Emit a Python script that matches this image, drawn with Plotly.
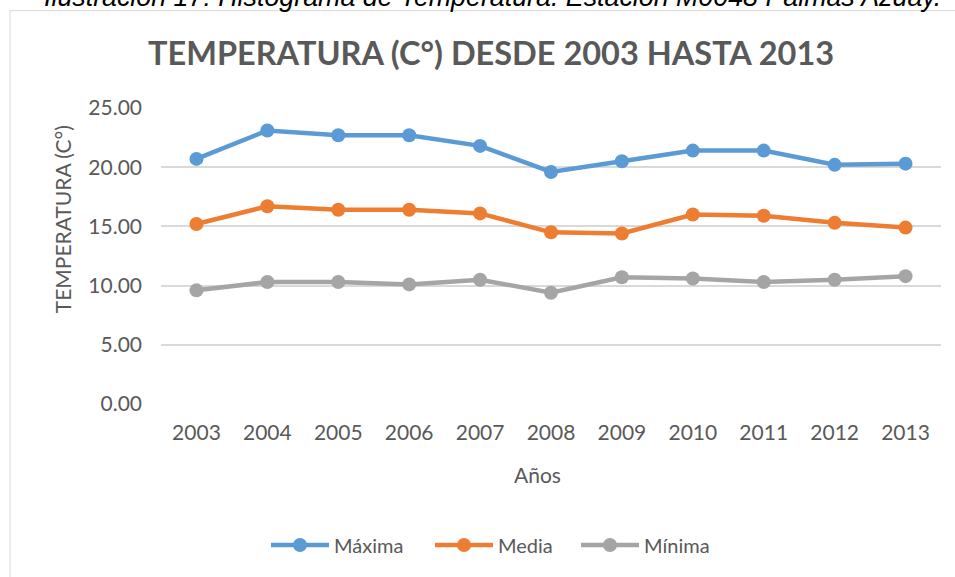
import plotly.graph_objects as go

years = ["2003", "2004", "2005", "2006", "2007", "2008", "2009", "2010", "2011", "2012", "2013"]
maxima = [20.7, 23.1, 22.7, 22.7, 21.8, 19.6, 20.5, 21.4, 21.4, 20.2, 20.3]
media = [15.2, 16.7, 16.4, 16.4, 16.1, 14.5, 14.4, 16.0, 15.9, 15.3, 14.9]
minima = [9.6, 10.3, 10.3, 10.1, 10.5, 9.4, 10.7, 10.6, 10.3, 10.5, 10.8]
y_ticks = [0, 5, 10, 15, 20, 25]
series_names = ["Máxima", "Media", "Mínima"]
series_colors = ["#5B9BD5", "#ED7D31", "#A5A5A5"]

W, H = 955, 577
ML, MR, MT, MB = 161, 14, 108, 171
PW, PH = W - ML - MR, H - MT - MB

def px(x):
    return (x - ML) / PW

def py(y):
    return (H - MB - y) / PH

TXT = "#595959"
FONT = "Lato"

legend_x = [266, 430, 576]
fig = go.Figure()
legends = {}
for i, (name, vals, col) in enumerate(zip(series_names, [maxima, media, minima], series_colors)):
    lg = "legend" if i == 0 else f"legend{i + 1}"
    fig.add_trace(go.Scatter(x=years, y=vals, name=name, mode="lines+markers",
                             line=dict(color=col, width=4.5),
                             marker=dict(color=col, size=14), legend=lg))
    legends[lg] = dict(orientation="h", x=px(legend_x[i]), xanchor="left", y=py(548),
                       yanchor="middle", font=dict(size=20, color=TXT, family=FONT),
                       itemwidth=58, bgcolor="rgba(0,0,0,0)")

fig.update_layout(
    width=W, height=H,
    margin=dict(l=ML, r=MR, t=MT, b=MB),
    paper_bgcolor="white", plot_bgcolor="white",
    font=dict(family=FONT, color=TXT, size=20),
    showlegend=True,
    **legends,
    xaxis=dict(type="category", range=[-0.5, 10.5], showgrid=False, showline=False,
               ticks="", ticklabelstandoff=14, tickfont=dict(size=21, color=TXT),
               zeroline=False),
    yaxis=dict(range=[0, 25], tickvals=y_ticks, tickformat=".2f", showgrid=True,
               gridcolor="#D9D9D9", gridwidth=1.5, zeroline=False, showline=False,
               ticks="", ticklabelstandoff=18, tickfont=dict(size=21, color=TXT)),
    annotations=[
        dict(text="<b>TEMPERATURA (C°) DESDE 2003 HASTA 2013</b>", xref="paper", yref="paper",
             x=px(490.5), y=py(52), xanchor="center", yanchor="middle", showarrow=False,
             font=dict(size=32.5, color=TXT, family=FONT)),
        dict(text="Años", xref="paper", yref="paper", x=px(537), y=py(477),
             xanchor="center", yanchor="middle", showarrow=False,
             font=dict(size=21, color=TXT, family=FONT)),
        dict(text="TEMPERATURA (C°)", xref="paper", yref="paper", x=px(62), y=py(220),
             xanchor="center", yanchor="middle", showarrow=False, textangle=-90,
             font=dict(size=21, color=TXT, family=FONT)),
        dict(text="<i>Ilustración 17: Histograma de Temperatura. Estación M0048 Palmas Azuay.</i>",
             xref="paper", yref="paper", x=px(42), y=py(13), xanchor="left", yanchor="bottom",
             showarrow=False, font=dict(size=26.8, color="black", family="Liberation Sans")),
    ],
    shapes=[
        dict(type="rect", xref="paper", yref="paper", x0=px(10), y0=py(H + 20),
             x1=px(W + 20), y1=py(10), line=dict(color="#D9D9D9", width=1),
             fillcolor="rgba(0,0,0,0)", layer="below"),
    ],
)

fig.write_html("out.html", config={"displayModeBar": False},
               post_script="document.body.style.margin='0';document.body.style.overflow='hidden';")
